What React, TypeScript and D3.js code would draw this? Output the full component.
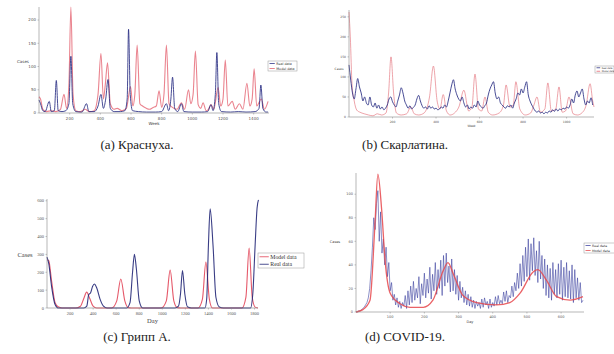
import * as d3 from "d3";

// (a) rubella — [week, cases]
const rubellaModel: [number, number][] = [
  [0, 35], [10, 30], [25, 8], [50, 3], [80, 5], [110, 3], [140, 8], [163, 40], [180, 10], [195, 60],
  [208, 228], [222, 40], [240, 5], [270, 3], [300, 8], [330, 3], [360, 5], [385, 40], [404, 128],
  [420, 30], [432, 60], [447, 108], [465, 20], [490, 8], [510, 10], [540, 5], [570, 10], [597, 57],
  [612, 15], [625, 40], [640, 146], [658, 20], [675, 15], [700, 10], [720, 8], [745, 12], [765, 15],
  [783, 48], [800, 12], [815, 40], [831, 146], [848, 20], [870, 12], [900, 8], [929, 22], [950, 8],
  [975, 50], [990, 20], [1005, 40], [1020, 133], [1038, 18], [1055, 10], [1070, 22], [1090, 5],
  [1105, 8], [1122, 18], [1140, 8], [1168, 55], [1185, 15], [1200, 30], [1215, 114], [1232, 15],
  [1260, 25], [1280, 8], [1307, 20], [1330, 8], [1356, 64], [1375, 15], [1390, 30], [1403, 95],
  [1420, 15], [1450, 30], [1470, 8], [1494, 25],
];
const rubellaReal: [number, number][] = [
  [0, 28], [10, 20], [25, 5], [40, 3], [67, 25], [80, 3], [100, 5], [113, 70], [125, 5], [150, 3],
  [175, 5], [195, 20], [208, 122], [220, 20], [240, 3], [280, 2], [310, 20], [325, 3], [360, 3],
  [385, 15], [404, 40], [420, 10], [435, 30], [450, 72], [465, 10], [490, 3], [530, 3], [560, 5],
  [575, 30], [584, 180], [595, 40], [610, 5], [650, 3], [700, 2], [760, 2], [800, 3], [831, 20],
  [845, 5], [860, 30], [871, 77], [885, 10], [905, 3], [929, 20], [945, 3], [1000, 2], [1060, 2],
  [1100, 3], [1122, 18], [1135, 5], [1150, 40], [1160, 130], [1172, 20], [1190, 3], [1250, 2],
  [1300, 3], [1350, 2], [1410, 3], [1435, 10], [1447, 60], [1460, 10], [1480, 2], [1494, 2],
];
const rubellaTicksX = [200, 400, 600, 800, 1000, 1200, 1400];
const rubellaTicksY = [0, 50, 100, 150, 200];

// (b) scarlet fever
const scarletModel: [number, number][] = [
  [0, 262], [6, 200], [14, 80], [24, 40], [36, 17], [50, 12], [70, 8], [90, 5], [110, 3], [130, 8],
  [150, 5], [170, 10], [182, 60], [193, 150], [205, 60], [218, 10], [240, 5], [265, 8], [284, 25],
  [300, 8], [320, 5], [345, 10], [370, 50], [388, 127], [405, 40], [418, 20], [433, 56], [448, 15],
  [465, 5], [485, 10], [505, 25], [528, 67], [550, 15], [565, 25], [579, 107], [595, 20], [610, 15],
  [625, 50], [640, 12], [660, 5], [690, 10], [710, 30], [722, 80], [740, 25], [755, 30], [767, 88],
  [785, 20], [810, 5], [835, 10], [850, 30], [864, 50], [880, 12], [900, 20], [914, 85], [930, 15],
  [950, 20], [965, 75], [980, 12], [995, 15], [1011, 50], [1030, 8], [1050, 5], [1070, 10],
  [1090, 30], [1108, 83], [1120, 40], [1126, 25],
];
// one value every 8 weeks
const scarletReal = [
  130, 92, 60, 45, 70, 96, 75, 60, 40, 50, 35, 30, 50, 30, 25, 35, 22, 30, 20, 25, 18, 22, 30, 45,
  50, 38, 30, 25, 40, 55, 73, 60, 40, 30, 22, 28, 20, 24, 30, 45, 54, 40, 28, 22, 25, 20, 28, 22,
  25, 20, 22, 18, 20, 25, 22, 30, 25, 40, 60, 80, 93, 70, 55, 45, 40, 50, 35, 25, 30, 20, 25, 22,
  30, 25, 40, 30, 25, 22, 28, 35, 55, 70, 80, 88, 60, 45, 50, 35, 30, 25, 22, 28, 25, 30, 22, 35,
  45, 60, 55, 70, 60, 75, 88, 55, 40, 30, 22, 15, 12, 15, 10, 12, 8, 12, 10, 15, 12, 18, 14, 20,
  15, 20, 18, 22, 20, 25, 22, 30, 45, 35, 55, 65, 50, 60, 70, 45, 30, 40, 35, 48, 30,
];
const scarletStep = 8;
const scarletTicksX = [200, 400, 600, 800, 1000];
const scarletTicksY = [0, 50, 100, 150, 200, 250];

// (c) influenza A
const fluModel: [number, number][] = [
  [0, 270], [15, 265], [40, 150], [70, 30], [100, 5], [130, 0], [250, 0], [290, 10], [320, 55],
  [344, 89], [370, 55], [400, 10], [430, 0], [560, 0], [605, 40], [640, 162], [675, 40], [705, 2],
  [730, 0], [990, 0], [1035, 40], [1068, 212], [1100, 40], [1130, 2], [1160, 0], [1310, 0],
  [1348, 50], [1378, 257], [1408, 50], [1435, 0], [1690, 0], [1725, 60], [1753, 335], [1780, 60],
  [1805, 5], [1830, 0],
];
const fluReal: [number, number][] = [
  [0, 285], [15, 250], [40, 120], [70, 20], [100, 0], [320, 0], [345, 10], [362, 75], [378, 85],
  [395, 120], [411, 134], [430, 115], [460, 50], [490, 10], [520, 0], [690, 0], [720, 30],
  [742, 200], [758, 300], [775, 220], [800, 40], [830, 0], [1110, 0], [1140, 10], [1158, 80],
  [1175, 210], [1195, 80], [1220, 5], [1250, 0], [1370, 0], [1385, 50], [1400, 350], [1415, 555],
  [1440, 350], [1465, 60], [1495, 5], [1530, 0], [1765, 0], [1785, 80], [1805, 350], [1822, 560],
  [1834, 605],
];
const fluTicksX = [200, 400, 600, 800, 1000, 1200, 1400, 1600, 1800];
const fluTicksY = [0, 100, 200, 300, 400, 500, 600];

// (d) COVID-19
const covidModel: [number, number][] = [
  [0, 0], [20, 2], [41, 10], [55, 72], [64, 117], [75, 87], [85, 44], [100, 16], [129, 7], [158, 4],
  [197, 4], [225, 10], [255, 35], [269, 42], [285, 32], [313, 14], [353, 8], [411, 6], [450, 8],
  [480, 16], [518, 34], [532, 36], [557, 27], [587, 13], [626, 10], [664, 13],
];
// one value every 4 days
const covidReal = [
  0, 0, 1, 1, 2, 3, 4, 6, 8, 12, 20, 35, 55, 80, 70, 92, 103, 60, 85, 50, 62, 40, 55, 30, 42, 18,
  25, 10, 15, 6, 12, 4, 9, 3, 8, 5, 14, 3, 18, 6, 22, 8, 26, 10, 20, 12, 30, 7, 24, 14, 33, 12, 28,
  16, 38, 11, 32, 18, 42, 15, 36, 20, 44, 14, 48, 22, 50, 25, 39, 17, 45, 18, 36, 15, 31, 10, 26,
  12, 21, 8, 18, 6, 15, 5, 13, 4, 10, 3, 9, 5, 8, 3, 11, 4, 12, 6, 9, 3, 11, 4, 8, 5, 13, 6, 14, 7,
  10, 7, 17, 9, 18, 8, 14, 12, 22, 13, 25, 18, 33, 20, 41, 22, 48, 26, 55, 30, 62, 27, 58, 35, 63,
  31, 52, 25, 60, 28, 48, 20, 45, 14, 40, 12, 37, 10, 42, 15, 36, 12, 41, 15, 44, 10, 38, 13, 42,
  12, 35, 11, 40, 8, 36, 12, 29, 10, 25, 8, 10,
];
const covidStep = 4;
const covidTicksX = [100, 200, 300, 400, 500, 600];
const covidTicksY = [0, 20, 40, 60, 80, 100];

type Series = { data: [number, number][]; color: string; width: number; curve: d3.CurveFactory };

type PanelProps = {
  xr: [number, number];
  yr: [number, number];
  xd: [number, number];
  yd: [number, number];
  series: Series[];
  ticksX: number[];
  ticksY: number[];
  xLabel: string;
  yLabel: string;
  yLabelPos: [number, number];
  font: string;
  tickSize: number;
  labelSize: number;
  legend: { x: number; y: number; w: number; h: number; size: number; items: { label: string; color: string }[] };
};

const Panel = (p: PanelProps) => {
  const x = d3.scaleLinear(p.xd, p.xr);
  const y = d3.scaleLinear(p.yd, p.yr);
  const line = (s: Series) =>
    d3
      .line<[number, number]>()
      .x((d) => x(d[0]))
      .y((d) => y(d[1]))
      .curve(s.curve)(s.data) || "";
  const lg = p.legend;
  const rowH = lg.h / lg.items.length;
  return (
    <g fontFamily={p.font}>
      {p.series.map((s, i) => (
        <path key={i} d={line(s)} fill="none" stroke={s.color} strokeWidth={s.width} strokeLinejoin="round" />
      ))}
      <line x1={p.xr[0]} x2={p.xr[1]} y1={p.yr[0]} y2={p.yr[0]} stroke="#888" strokeWidth={0.6} />
      <line x1={p.xr[0]} x2={p.xr[0]} y1={p.yr[0]} y2={p.yr[1]} stroke="#888" strokeWidth={0.6} />
      {p.ticksX.map((t) => (
        <g key={"x" + t}>
          <line x1={x(t)} x2={x(t)} y1={p.yr[0]} y2={p.yr[0] + 1.5} stroke="#888" strokeWidth={0.5} />
          <text x={x(t)} y={p.yr[0] + 2.5 + p.tickSize} fontSize={p.tickSize} fill="#555" textAnchor="middle">
            {t}
          </text>
        </g>
      ))}
      {p.ticksY.map((t) => (
        <g key={"y" + t}>
          <line x1={p.xr[0] - 1.5} x2={p.xr[0]} y1={y(t)} y2={y(t)} stroke="#888" strokeWidth={0.5} />
          <text x={p.xr[0] - 3} y={y(t) + p.tickSize * 0.35} fontSize={p.tickSize} fill="#555" textAnchor="end">
            {t}
          </text>
        </g>
      ))}
      <text
        x={(p.xr[0] + p.xr[1]) / 2}
        y={p.yr[0] + 4 + p.tickSize + p.labelSize}
        fontSize={p.labelSize}
        fill="#444"
        textAnchor="middle"
      >
        {p.xLabel}
      </text>
      <text x={p.yLabelPos[0]} y={p.yLabelPos[1]} fontSize={p.labelSize} fill="#444" textAnchor="middle">
        {p.yLabel}
      </text>
      <rect x={lg.x} y={lg.y} width={lg.w} height={lg.h} fill="#fff" stroke="#999" strokeWidth={0.5} />
      {lg.items.map((it, i) => {
        const cy = lg.y + rowH * (i + 0.5);
        return (
          <g key={it.label}>
            <line x1={lg.x + 1.5} x2={lg.x + 1.5 + lg.size * 1.6} y1={cy} y2={cy} stroke={it.color} strokeWidth={0.9} />
            <text x={lg.x + 3 + lg.size * 1.6} y={cy + lg.size * 0.35} fontSize={lg.size} fill="#333">
              {it.label}
            </text>
          </g>
        );
      })}
    </g>
  );
};

const RED = "rgba(222, 70, 85, 0.75)";
const BLUE = "rgba(40, 45, 130, 0.85)";

const toPairs = (vals: number[], step: number): [number, number][] => vals.map((v, i) => [i * step, v]);

export default function App() {
  const sans = "DejaVu Sans, sans-serif";
  const serif = "Liberation Serif, serif";
  return (
    <svg width={614} height={354} style={{ position: "absolute", left: 0, top: 0, background: "#fff" }}>
      <Panel
        xr={[39, 269]}
        yr={[113, 7]}
        xd={[0, 1500]}
        yd={[0, 228]}
        series={[
          { data: rubellaModel, color: "rgba(225, 80, 95, 0.7)", width: 1.1, curve: d3.curveMonotoneX },
          { data: rubellaReal, color: BLUE, width: 1, curve: d3.curveMonotoneX },
        ]}
        ticksX={rubellaTicksX}
        ticksY={rubellaTicksY}
        xLabel="Week"
        yLabel="Cases"
        yLabelPos={[23, 63]}
        font={sans}
        tickSize={4}
        labelSize={4}
        legend={{ x: 268, y: 61, w: 29, h: 10, size: 3.3, items: [
          { label: "Real data", color: BLUE },
          { label: "Model data", color: RED },
        ] }}
      />
      <Panel
        xr={[349, 594]}
        yr={[117, 10]}
        xd={[0, 1126]}
        yd={[0, 267]}
        series={[
          { data: scarletModel, color: "rgba(225, 100, 110, 0.65)", width: 0.9, curve: d3.curveMonotoneX },
          { data: toPairs(scarletReal, scarletStep), color: BLUE, width: 1, curve: d3.curveMonotoneX },
        ]}
        ticksX={scarletTicksX}
        ticksY={scarletTicksY}
        xLabel="Week"
        yLabel="Cases"
        yLabelPos={[339, 70]}
        font={sans}
        tickSize={3}
        labelSize={3}
        legend={{ x: 595, y: 66, w: 19, h: 7, size: 2.3, items: [
          { label: "Real data", color: BLUE },
          { label: "Model data", color: RED },
        ] }}
      />
      <Panel
        xr={[47, 258]}
        yr={[308, 199]}
        xd={[0, 1830]}
        yd={[0, 610]}
        series={[
          { data: fluModel, color: "rgba(225, 60, 80, 0.85)", width: 1.1, curve: d3.curveMonotoneX },
          { data: fluReal, color: "rgba(35, 40, 120, 0.9)", width: 1.1, curve: d3.curveMonotoneX },
        ]}
        ticksX={fluTicksX}
        ticksY={fluTicksY}
        xLabel="Day"
        yLabel="Cases"
        yLabelPos={[25, 257]}
        font={serif}
        tickSize={4.5}
        labelSize={6.5}
        legend={{ x: 258, y: 253, w: 46, h: 15, size: 5.8, items: [
          { label: "Model data", color: "rgba(225, 60, 80, 0.85)" },
          { label: "Real data", color: "rgba(35, 40, 120, 0.9)" },
        ] }}
      />
      <Panel
        xr={[356, 584]}
        yr={[312, 173]}
        xd={[0, 667]}
        yd={[0, 118]}
        series={[
          { data: toPairs(covidReal, covidStep), color: "rgba(50, 55, 155, 0.8)", width: 0.7, curve: d3.curveLinear },
          { data: covidModel, color: "rgba(230, 70, 75, 0.85)", width: 1.3, curve: d3.curveMonotoneX },
        ]}
        ticksX={covidTicksX}
        ticksY={covidTicksY}
        xLabel="Day"
        yLabel="Cases"
        yLabelPos={[335, 243]}
        font={sans}
        tickSize={3.5}
        labelSize={3.5}
        legend={{ x: 584, y: 243, w: 31, h: 10, size: 3.2, items: [
          { label: "Real data", color: "rgba(50, 55, 155, 0.8)" },
          { label: "Model data", color: "rgba(230, 70, 75, 0.85)" },
        ] }}
      />
      <g fontFamily={serif} fontSize={13} fill="#222" textAnchor="middle">
        <text x={137} y={149}>(a) Краснуха.</text>
        <text x={405} y={149}>(b) Скарлатина.</text>
        <text x={137} y={341}>(c) Грипп А.</text>
        <text x={405} y={341}>(d) COVID-19.</text>
      </g>
    </svg>
  );
}
